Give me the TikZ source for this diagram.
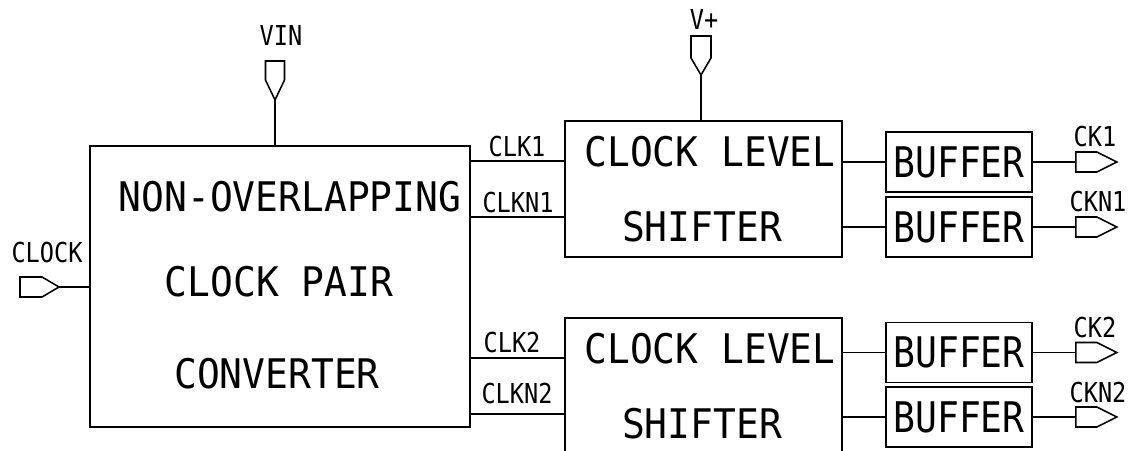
\documentclass[tikz,border=0pt]{standalone}
\usepackage{fontspec}
\newfontfamily\cadfont[FakeStretch=0.93]{DejaVu Sans Mono}
\newfontfamily\cadnarrow[FakeStretch=0.86]{DejaVu Sans Mono}

\begin{document}
\begin{tikzpicture}[
  x=0.025cm, y=-0.025cm, line width=1.1pt,
  blockbox/.style={rectangle, draw, inner sep=0pt},
  bufbox/.style={rectangle, draw, inner sep=0pt, minimum width=3.65cm, minimum height=1.5cm,
                 font=\cadnarrow\fontsize{30pt}{30pt}\selectfont},
  bigtxt/.style={font=\cadfont\fontsize{29pt}{29pt}\selectfont, anchor=base, inner sep=0pt},
  sigtxt/.style={font=\cadnarrow\fontsize{19.5pt}{19.5pt}\selectfont, anchor=base, inner sep=0pt}
]
\clip (0,0) rectangle (1135,451);

% Blocks
\node[blockbox, minimum width=9.5cm, minimum height=7.025cm] (conv) at (280,286.5) {};
\node[blockbox, minimum width=6.925cm, minimum height=3.4cm] (ls1) at (703.5,189) {};
\node[blockbox, minimum width=6.925cm, minimum height=3.4cm] (ls2) at (703.5,386) {};

\node[bufbox] (buf1) at (959,162) {BUFFER};
\node[bufbox] (buf2) at (959,227) {BUFFER};
\node[bufbox] (buf3) at (959,352.5) {BUFFER};
\node[bufbox] (buf4) at (959,417) {BUFFER};

% Block texts
\node[bigtxt] (convt1) at (290,212) {NON-OVERLAPPING};
\node[bigtxt] (convt2) at (279,297) {CLOCK PAIR};
\node[bigtxt] (convt3) at (277,388) {CONVERTER};
\node[bigtxt] (ls1t1) at (710,167) {CLOCK LEVEL};
\node[bigtxt] (ls1t2) at (702,242) {SHIFTER};
\node[bigtxt] (ls2t1) at (710,363) {CLOCK LEVEL};
\node[bigtxt] (ls2t2) at (702,438) {SHIFTER};

% Pins
\coordinate (vintip) at (275,100);
\draw (vintip) -- ++(-9.5,-20) -- ++(0,-19) -- ++(19,0) -- ++(0,19) -- cycle;
\node[sigtxt] (vinlbl) at (281,46) {VIN};

\coordinate (vptip) at (701,75);
\draw (vptip) -- ++(-10,-17) -- ++(0,-22) -- ++(20,0) -- ++(0,22) -- cycle;
\node[sigtxt] (vplbl) at (704,30) {V+};

\coordinate (clktip) at (59,287);
\draw (clktip) -- ++(-17,-10) -- ++(-22,0) -- ++(0,20) -- ++(22,0) -- cycle;
\node[sigtxt] (clklbl) at (47,263) {CLOCK};

\coordinate (ck1) at ([xshift=1.075cm]buf1.east);
\coordinate (ckn1) at ([xshift=1.075cm]buf2.east);
\coordinate (ck2) at ([xshift=1.075cm]buf3.east);
\coordinate (ckn2) at ([xshift=1.075cm]buf4.east);
\draw (ck1) -- ++(0,-10) -- ++(21,0) -- ++(20,10) -- ++(-20,10) -- ++(-21,0) -- cycle;
\draw (ckn1) -- ++(0,-10) -- ++(21,0) -- ++(20,10) -- ++(-20,10) -- ++(-21,0) -- cycle;
\draw (ck2) -- ++(0,-10) -- ++(21,0) -- ++(20,10) -- ++(-20,10) -- ++(-21,0) -- cycle;
\draw (ckn2) -- ++(0,-10) -- ++(21,0) -- ++(20,10) -- ++(-20,10) -- ++(-21,0) -- cycle;
\node[sigtxt] (ck1lbl) at (1095,147) {CK1};
\node[sigtxt] (ckn1lbl) at (1098,212) {CKN1};
\node[sigtxt] (ck2lbl) at (1095,337) {CK2};
\node[sigtxt] (ckn2lbl) at (1098,402) {CKN2};

% Supply and input wires
\draw (vintip) -- (vintip |- conv.north);
\draw (vptip) -- (vptip |- ls1.north);
\draw (clktip) -- (clktip -| conv.west);

% Clock pairs into the level shifters
\coordinate (clk1) at ([yshift=0.7cm]ls1.west);
\coordinate (clkn1) at ([yshift=-0.7cm]ls1.west);
\coordinate (clk2) at ([yshift=0.7cm]ls2.west);
\coordinate (clkn2) at ([yshift=-0.7cm]ls2.west);
\draw (conv.east |- clk1) -- (clk1);
\draw (conv.east |- clkn1) -- (clkn1);
\draw (conv.east |- clk2) -- (clk2);
\draw (conv.east |- clkn2) -- (clkn2);
\node[sigtxt] (clk1lbl) at (517,157) {CLK1};
\node[sigtxt] (clkn1lbl) at (518,213) {CLKN1};
\node[sigtxt] (clk2lbl) at (512,352) {CLK2};
\node[sigtxt] (clkn2lbl) at (517,403) {CLKN2};

% Level shifters to buffers
\draw (buf1.west -| ls1.east) -- (buf1.west);
\draw (buf2.west -| ls1.east) -- (buf2.west);
\draw (buf3.west -| ls2.east) -- (buf3.west);
\draw (buf4.west -| ls2.east) -- (buf4.west);

% Buffers to outputs
\draw (buf1.east) -- (ck1);
\draw (buf2.east) -- (ckn1);
\draw (buf3.east) -- (ck2);
\draw (buf4.east) -- (ckn2);

\end{tikzpicture}
\end{document}
